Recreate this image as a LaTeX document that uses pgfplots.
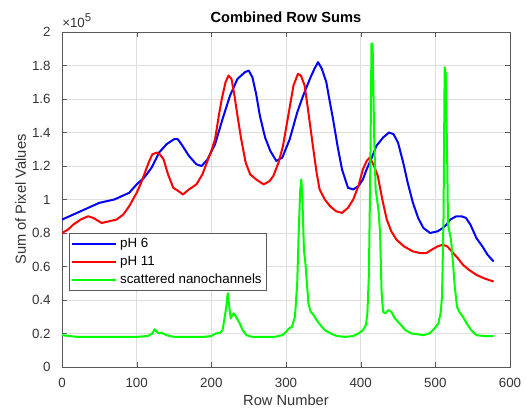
\documentclass[border=0pt]{standalone}
\usepackage{fontspec}
\setmainfont{Liberation Sans}
\usepackage{pgfplots}
\pgfplotsset{compat=1.18}
\definecolor{mblue}{RGB}{0,0,255}
\definecolor{mred}{RGB}{255,0,0}
\definecolor{mgreen}{RGB}{0,255,0}
\begin{document}
\begin{tikzpicture}
\begin{axis}[
  name=ax,
  scale only axis, width=336pt, height=251.25pt,
  xmin=0, xmax=600, ymin=0, ymax=2,
  xtick={0,100,200,300,400,500,600},
  ytick={0,0.2,0.4,0.6,0.8,1,1.2,1.4,1.6,1.8,2},
  yticklabels={0,0.2,0.4,0.6,0.8,1,1.2,1.4,1.6,1.8,2},
  grid=major, major grid style={black!13, line width=0.4pt},
  axis line style={black!65}, tick style={black!65},
  tick align=inside, major tick length=3.75pt, tick pos=both,
  /pgf/number format/assume math mode=true,
  ticklabel style={font=\fontsize{10}{12}\selectfont, text=black!80},
  yticklabel style={xshift=-5pt},
  xticklabel style={yshift=-4.5pt},
  xlabel={Row Number}, ylabel={Sum of Pixel Values},
  xlabel style={at={(axis description cs:0.5,0)}, anchor=base, yshift=-29pt, font=\fontsize{11}{13}\selectfont, text=black!80},
  ylabel style={at={([xshift=-27pt]axis description cs:0,0.5)}, anchor=base, rotate=0, font=\fontsize{11}{13}\selectfont, text=black!80},
  legend style={at={(0.016,0.4)}, anchor=north west, draw=black!65, font=\fontsize{10}{12}\selectfont, inner sep=1.5pt, row sep=1.2pt},
  legend cell align=left,
  legend image code/.code={\draw[#1] (0pt,0pt) -- (33pt,0pt);},
  every axis plot/.append style={line width=1.5pt, line join=round},
]
\addplot[mblue] coordinates {
(0,0.88)(10,0.90)(20,0.92)(30,0.94)(40,0.96)(50,0.98)(60,0.99)(70,1.00)(80,1.02)(90,1.04)
(100,1.09)(110,1.13)(120,1.19)(130,1.28)(140,1.33)(150,1.36)(155,1.36)(160,1.33)(170,1.26)
(180,1.21)(187,1.20)(195,1.24)(205,1.33)(215,1.48)(225,1.62)(235,1.72)(245,1.76)(250,1.77)
(255,1.73)(260,1.63)(265,1.50)(272,1.37)(279,1.29)(287,1.23)(295,1.25)(305,1.36)(315,1.52)
(323,1.62)(332,1.72)(338,1.78)(343,1.82)(348,1.78)(354,1.70)(358,1.60)(363,1.48)(369,1.32)
(375,1.18)(383,1.07)(390,1.06)(397,1.08)(403,1.12)(408,1.18)(415,1.25)(421,1.32)(430,1.37)
(438,1.40)(444,1.39)(450,1.34)(457,1.22)(463,1.10)(470,0.98)(477,0.89)(484,0.83)(493,0.80)
(503,0.81)(510,0.83)(515,0.85)(520,0.88)(528,0.90)(535,0.90)(541,0.89)(547,0.85)(555,0.77)
(563,0.72)(570,0.67)(578,0.63)};
\addlegendentry{pH 6}
\addplot[mred] coordinates {
(0,0.80)(8,0.82)(15,0.85)(25,0.88)(35,0.90)(42,0.89)(53,0.86)(63,0.87)(73,0.88)(82,0.91)
(90,0.96)(100,1.04)(106,1.10)(111,1.16)(116,1.22)(121,1.27)(127,1.28)(131,1.27)(136,1.24)
(142,1.15)(149,1.07)(156,1.05)(162,1.03)(170,1.06)(180,1.09)(188,1.15)(194,1.22)(200,1.29)
(205,1.36)(210,1.50)(214,1.60)(219,1.70)(223,1.74)(227,1.72)(231,1.62)(235,1.50)(240,1.36)
(246,1.22)(252,1.15)(260,1.12)(270,1.09)(278,1.11)(283,1.14)(290,1.22)(296,1.32)(303,1.50)
(310,1.68)(316,1.75)(320,1.74)(325,1.68)(330,1.52)(336,1.32)(341,1.16)(345,1.06)(352,1.00)
(359,0.96)(367,0.93)(375,0.92)(383,0.95)(390,1.00)(397,1.08)(403,1.18)(408,1.23)(412,1.25)
(417,1.21)(423,1.14)(429,1.00)(435,0.88)(441,0.81)(448,0.76)(458,0.72)(470,0.69)(480,0.68)
(488,0.68)(495,0.70)(503,0.72)(510,0.73)(516,0.72)(522,0.69)(530,0.65)(537,0.61)(545,0.58)
(555,0.55)(565,0.53)(578,0.51)};
\addlegendentry{pH 11}
\addplot[mgreen] coordinates {
(0,0.19)(10,0.185)(20,0.18)(40,0.18)(60,0.18)(80,0.18)(100,0.18)(115,0.185)(121,0.20)
(124,0.225)(127,0.21)(130,0.20)(133,0.205)(140,0.19)(150,0.18)(170,0.18)(190,0.18)(200,0.185)
(206,0.20)(212,0.205)(215,0.22)(218,0.30)(220,0.36)(222,0.44)(224,0.36)(226,0.29)(228,0.31)
(230,0.32)(233,0.30)(238,0.26)(242,0.22)(247,0.19)(255,0.18)(270,0.18)(285,0.18)(295,0.19)
(300,0.21)(304,0.23)(308,0.24)(312,0.30)(315,0.50)(317,0.80)(319,1.05)(320.5,1.12)(322,1.00)
(324,0.70)(326,0.62)(328,0.50)(330,0.38)(333,0.33)(337,0.31)(341,0.28)(346,0.25)(352,0.22)
(360,0.20)(368,0.185)(380,0.18)(390,0.185)(397,0.20)(403,0.22)(407,0.25)(409,0.32)(411,0.55)
(413,1.20)(414.5,1.93)(416,1.93)(418,1.40)(420,1.06)(422,1.00)(424,0.93)(426,0.80)(428,0.45)
(430,0.33)(433,0.32)(437,0.34)(441,0.33)(446,0.29)(452,0.26)(460,0.22)(468,0.20)(477,0.195)
(484,0.19)(492,0.20)(499,0.23)(504,0.26)(507,0.32)(509,0.42)(511,0.90)(512.5,1.79)(514,1.75)
(516,1.20)(517,0.85)(521,0.76)(524,0.60)(526,0.48)(529,0.36)(532,0.33)(537,0.30)(542,0.26)
(548,0.22)(555,0.19)(565,0.185)(578,0.185)};
\addlegendentry{scattered nanochannels}
\end{axis}
\node[anchor=base, inner sep=0pt, font=\fontsize{11}{13}\selectfont\bfseries] at ([yshift=7pt]ax.north) {Combined Row Sums};
\node[anchor=base west, inner sep=0pt, font=\fontsize{10}{12}\selectfont, text=black!80] at ([yshift=3.3pt]ax.north west) {×10\raisebox{4.5pt}{\fontsize{8.5}{9}\selectfont 5}};
\pgfresetboundingbox
\path (-46.5pt,-33pt) rectangle (348pt,275.25pt);
\end{tikzpicture}
\end{document}
